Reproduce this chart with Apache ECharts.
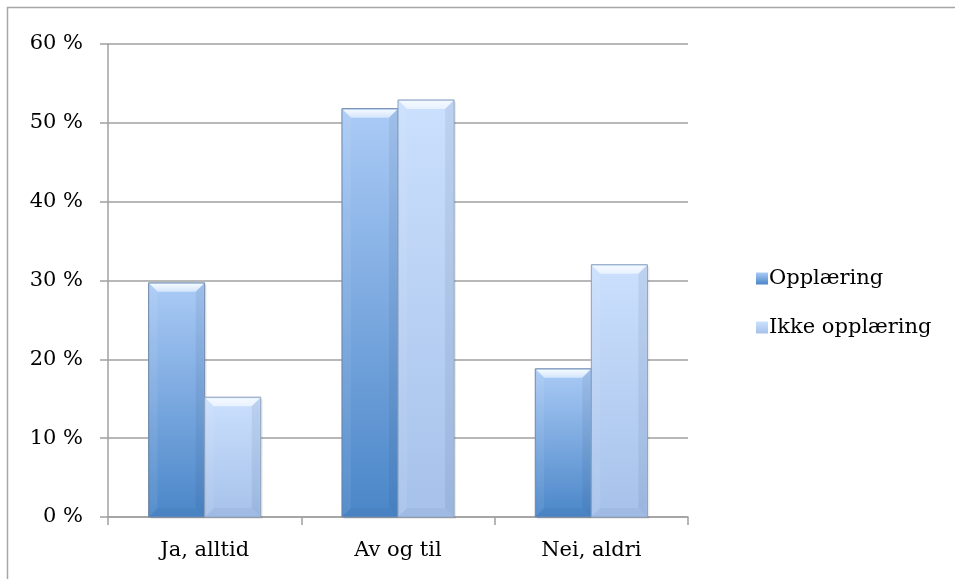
<!DOCTYPE html>
<html>
<head>
<meta charset="utf-8">
<script src="https://cdn.jsdelivr.net/npm/echarts@6/dist/echarts.min.js"></script>
<style>
  html, body { margin: 0; padding: 0; background: #fff; }
  #chart { width: 955px; height: 579px; }
</style>
</head>
<body>
<div id="chart"></div>
<script>
// Survey answers, share of respondents per group
const categories = ['Ja, alltid', 'Av og til', 'Nei, aldri'];
const opplaering = [29.7, 51.8, 18.8];
const ikkeOpplaering = [15.2, 52.9, 32.0];
const seriesNames = ['Opplæring', 'Ikke opplæring'];

const FONT = '"DejaVu Serif", "Liberation Serif", serif';
const FONT_SIZE = 21;

const palettes = [
  { top: '#abcbf6', bottom: '#4a86c8', bevelTop: '#d3e5fc', edge: '#7088a8' },
  { top: '#cbe0fd', bottom: '#a6c1ea', bevelTop: '#e8f2ff', edge: '#8a9fbc' }
];

function vgrad(a, b) {
  return new echarts.graphic.LinearGradient(0, 0, 0, 1, [
    { offset: 0, color: a }, { offset: 1, color: b }
  ]);
}

// Bevelled bar drawn from the category index and value via the axis scales
function bevelBar(seriesIndex) {
  const pal = palettes[seriesIndex];
  return function (params, api) {
    const cat = api.value(0);
    const val = api.value(1);
    const catW = api.size([1, 0])[0];
    const w = catW * 0.29;
    const center = api.coord([cat, 0]);
    const topPt = api.coord([cat, val]);
    const x = center[0] + (seriesIndex === 0 ? -w : 0);
    const y0 = center[1];
    const y1 = topPt[1];
    const h = y0 - y1;
    const b = Math.min(9, h / 2);
    return {
      type: 'group',
      children: [
        { type: 'rect', shape: { x: x + 2, y: y1 + 2, width: w, height: h },
          style: { fill: 'rgba(0,0,0,0.08)' } },
        { type: 'rect', shape: { x: x, y: y1, width: w, height: h },
          style: { fill: vgrad(pal.top, pal.bottom), stroke: pal.edge, lineWidth: 1 } },
        // top bevel
        { type: 'polygon', shape: { points: [[x + 1, y1 + 1], [x + w - 1, y1 + 1], [x + w - b, y1 + b], [x + b, y1 + b]] },
          style: { fill: new echarts.graphic.LinearGradient(0, 0, 0, 1, [
            { offset: 0, color: '#f4f9ff' }, { offset: 1, color: pal.bevelTop }]) } },
        // left bevel
        { type: 'polygon', shape: { points: [[x + 1, y1 + 1], [x + b, y1 + b], [x + b, y0 - b], [x + 1, y0 - 1]] },
          style: { fill: 'rgba(255,255,255,0.07)' } },
        // right bevel
        { type: 'polygon', shape: { points: [[x + w - 1, y1 + 1], [x + w - b, y1 + b], [x + w - b, y0 - b], [x + w - 1, y0 - 1]] },
          style: { fill: 'rgba(30,50,90,0.08)' } },
        // bottom bevel
        { type: 'polygon', shape: { points: [[x + 1, y0 - 1], [x + b, y0 - b], [x + w - b, y0 - b], [x + w - 1, y0 - 1]] },
          style: { fill: 'rgba(30,50,90,0.05)' } }
      ]
    };
  };
}

const chart = echarts.init(document.getElementById('chart'), null, { renderer: 'canvas' });

const option = {
  animation: false,
  backgroundColor: '#ffffff',
  graphic: [
    { type: 'polyline', silent: true, z: 100,
      shape: { points: [[7.5, 600], [7.5, 7.5], [960, 7.5]] },
      style: { stroke: '#a6a6a6', lineWidth: 1.5, fill: null } }
  ],
  grid: { left: 108, right: 267, top: 44, bottom: 62, containLabel: false },
  legend: {
    orient: 'vertical',
    left: 751,
    top: 263,
    itemWidth: 12,
    itemHeight: 12,
    itemGap: 28,
    icon: 'rect',
    textStyle: { fontFamily: FONT, fontSize: FONT_SIZE, color: '#000', padding: [0, 0, 0, -4] },
    data: seriesNames
  },
  xAxis: {
    type: 'category',
    data: categories,
    axisLine: { lineStyle: { color: '#a0a0a0', width: 1.5 } },
    axisTick: { show: true, length: 8, interval: 0, lineStyle: { color: '#a0a0a0', width: 1.5 } },
    axisLabel: { fontFamily: FONT, fontSize: FONT_SIZE, color: '#000', margin: 23 },
    splitLine: { show: false }
  },
  yAxis: {
    type: 'value',
    min: 0,
    max: 60,
    interval: 10,
    axisLine: { show: true, lineStyle: { color: '#a0a0a0', width: 1.5 } },
    axisTick: { show: true, length: 8, lineStyle: { color: '#a0a0a0', width: 1.5 } },
    axisLabel: { fontFamily: FONT, fontSize: FONT_SIZE, color: '#000', margin: 25,
      formatter: v => v + ' %' },
    splitLine: { show: true, lineStyle: { color: '#a0a0a0', width: 1.5 } }
  },
  series: [
    { name: seriesNames[0], type: 'custom', renderItem: bevelBar(0),
      itemStyle: { color: vgrad(palettes[0].top, palettes[0].bottom) },
      encode: { x: 0, y: 1 },
      data: opplaering.map((v, i) => [i, v]) },
    { name: seriesNames[1], type: 'custom', renderItem: bevelBar(1),
      itemStyle: { color: vgrad(palettes[1].top, palettes[1].bottom) },
      encode: { x: 0, y: 1 },
      data: ikkeOpplaering.map((v, i) => [i, v]) }
  ]
};

chart.setOption(option);
</script>
</body>
</html>
